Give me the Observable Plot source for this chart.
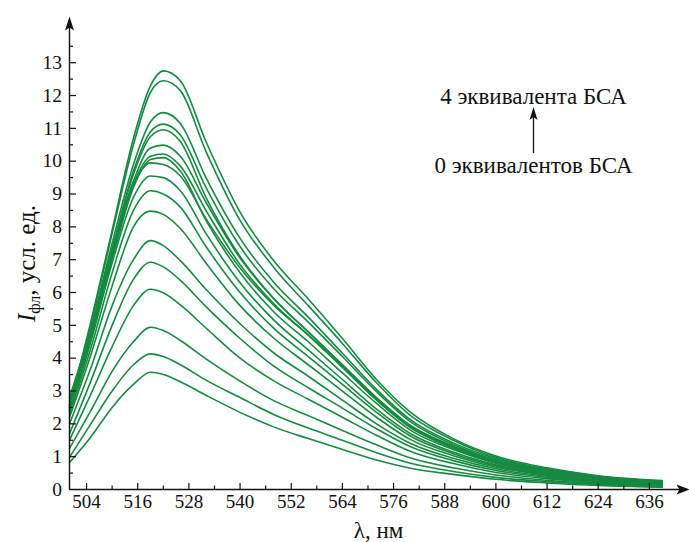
<!DOCTYPE html>
<html>
<head>
<meta charset="utf-8">
<script src="https://cdn.jsdelivr.net/npm/d3@7"></script>
<script src="https://cdn.jsdelivr.net/npm/@observablehq/plot@0.6"></script>
<style>
html, body { margin: 0; padding: 0; background: #fff; }
#chart svg { display: block; }
</style>
</head>
<body>
<div id="chart"></div>
<script>
// Wavelength grid (nm) shared by all spectra
const wavelengths = [500, 505, 510, 515, 519, 522, 526, 532, 540, 548, 556, 564, 572, 580, 590, 600, 612, 624, 639];

// Fluorescence spectra (intensity, arb. units), from highest to lowest peak
const c01 = [2.5, 5.1, 7.9, 10.7, 12.3, 12.75, 12.45, 10.6, 8.45, 6.95, 5.8, 4.6, 3.35, 2.35, 1.55, 1.02, 0.66, 0.42, 0.27];
const c02 = [2.4, 5.0, 7.8, 10.5, 12.1, 12.45, 12.15, 10.3, 8.2, 6.75, 5.6, 4.45, 3.25, 2.25, 1.5, 0.98, 0.63, 0.4, 0.25];
const c03 = [2.7, 4.9, 7.5, 9.9, 11.2, 11.48, 11.15, 9.5, 7.65, 6.3, 5.25, 4.15, 3.05, 2.12, 1.42, 0.94, 0.6, 0.38, 0.24];
const c04 = [2.6, 4.8, 7.3, 9.7, 10.9, 11.13, 10.8, 9.2, 7.4, 6.1, 5.1, 4.05, 2.98, 2.06, 1.37, 0.9, 0.58, 0.36, 0.23];
const c05 = [2.55, 4.75, 7.3, 9.6, 10.75, 10.96, 10.6, 8.9, 7.1, 5.8, 4.8, 3.8, 2.8, 1.95, 1.32, 0.87, 0.56, 0.35, 0.22];
const c06 = [2.5, 4.7, 7.2, 9.4, 10.4, 10.49, 10.15, 8.75, 7.05, 5.8, 4.8, 3.8, 2.78, 1.92, 1.3, 0.85, 0.54, 0.34, 0.21];
const c07 = [2.45, 4.65, 7.1, 9.3, 10.15, 10.22, 9.85, 8.5, 6.85, 5.65, 4.7, 3.72, 2.72, 1.88, 1.27, 0.83, 0.52, 0.32, 0.2];
const c08 = [2.4, 4.6, 7.0, 9.2, 10.05, 10.11, 9.7, 8.2, 6.6, 5.4, 4.5, 3.55, 2.62, 1.8, 1.22, 0.8, 0.5, 0.31, 0.19];
const c09 = [2.8, 4.9, 7.3, 9.3, 9.95, 9.9, 9.55, 8.25, 6.75, 5.6, 4.7, 3.75, 2.75, 1.9, 1.25, 0.81, 0.5, 0.3, 0.18];
const c10 = [2.35, 4.5, 6.9, 8.9, 9.55, 9.5, 9.1, 7.8, 6.3, 5.15, 4.25, 3.35, 2.45, 1.7, 1.14, 0.75, 0.47, 0.29, 0.17];
const c11 = [2.3, 4.3, 6.6, 8.5, 9.1, 9.0, 8.6, 7.4, 6.0, 4.9, 4.05, 3.2, 2.35, 1.62, 1.09, 0.72, 0.45, 0.28, 0.16];
const c12 = [2.2, 4.1, 6.2, 8.0, 8.48, 8.38, 7.95, 6.9, 5.6, 4.6, 3.8, 3.0, 2.2, 1.52, 1.03, 0.68, 0.43, 0.26, 0.15];
const c13 = [2.0, 3.7, 5.6, 7.0, 7.58, 7.43, 6.97, 6.1, 5.05, 4.15, 3.45, 2.72, 2.0, 1.4, 0.95, 0.63, 0.4, 0.24, 0.14];
const c14 = [1.7, 3.3, 5.0, 6.4, 6.92, 6.78, 6.37, 5.57, 4.6, 3.75, 3.1, 2.48, 1.85, 1.3, 0.88, 0.58, 0.37, 0.22, 0.13];
const c15 = [1.5, 2.9, 4.35, 5.6, 6.1, 5.99, 5.62, 4.92, 4.0, 3.3, 2.75, 2.2, 1.65, 1.16, 0.79, 0.52, 0.33, 0.2, 0.12];
const c16 = [1.25, 2.4, 3.6, 4.5, 4.94, 4.84, 4.54, 3.98, 3.3, 2.7, 2.25, 1.8, 1.36, 0.96, 0.66, 0.44, 0.28, 0.17, 0.1];
const c17 = [0.98, 2.0, 3.0, 3.8, 4.13, 4.05, 3.8, 3.33, 2.8, 2.28, 1.87, 1.5, 1.12, 0.8, 0.55, 0.37, 0.24, 0.15, 0.08];
const c18 = [0.82, 1.6, 2.5, 3.2, 3.57, 3.5, 3.28, 2.87, 2.35, 1.9, 1.55, 1.22, 0.9, 0.65, 0.46, 0.31, 0.2, 0.12, 0.07];

const spectra = [c01, c02, c03, c04, c05, c06, c07, c08, c09, c10, c11, c12, c13, c14, c15, c16, c17, c18];

// Axis ticks
const xTicks = [504, 516, 528, 540, 552, 564, 576, 588, 600, 612, 624, 636];
const xMinorTicks = [510, 522, 534, 546, 558, 570, 582, 594, 606, 618, 630];
const yTicks = [0, 1, 2, 3, 4, 5, 6, 7, 8, 9, 10, 11, 12, 13];
const yMinorTicks = [0.5, 1.5, 2.5, 3.5, 4.5, 5.5, 6.5, 7.5, 8.5, 9.5, 10.5, 11.5, 12.5, 13.5];

// Texts
const xLabel = "λ, нм";
const yLabel = "Iфл, усл. ед.";
const annotTop = "4 эквивалента БСА";
const annotBottom = "0 эквивалентов БСА";

// Build the long table
const rows = [];
spectra.forEach((s, i) => s.forEach((v, j) => rows.push({series: i, nm: wavelengths[j], value: v})));

// Pixel geometry
const X_LEFT = 69, PX_PER_NM = 4.264;
const Y_ZERO = 489, PX_PER_UNIT = 32.83;
const nmAt = (px) => 500 + (px - X_LEFT) / PX_PER_NM;
const valAt = (py) => (Y_ZERO - py) / PX_PER_UNIT;

function arrowSymbol(len, half, notch) {
  return {
    draw(ctx) {
      ctx.moveTo(0, 0);
      ctx.lineTo(half, len);
      ctx.lineTo(0, len - notch);
      ctx.lineTo(-half, len);
      ctx.closePath();
    }
  };
}

const FONT = "Liberation Serif, Times New Roman, serif";
const green = "#168a41";
const annX = nmAt(533);

const svg = Plot.plot({
  width: 689,
  height: 542,
  style: {fontFamily: FONT, background: "#fff", overflow: "visible"},
  x: {domain: [500, 640], range: [X_LEFT, X_LEFT + 140 * PX_PER_NM], axis: null},
  y: {domain: [0, 13], range: [Y_ZERO, Y_ZERO - 13 * PX_PER_UNIT], axis: null},
  marks: [
    Plot.line(rows, {x: "nm", y: "value", z: "series", stroke: green, strokeWidth: 1.6, curve: "monotone-x"}),
    // axis lines
    Plot.ruleY([0], {x1: 500, x2: nmAt(680), stroke: "#111", strokeWidth: 1.4}),
    Plot.ruleX([500], {y1: 0, y2: valAt(26), stroke: "#111", strokeWidth: 1.4}),
    // arrowheads
    Plot.dot([0], {x: nmAt(689), y: 0, symbol: arrowSymbol(13, 5, 3), rotate: 90, fill: "#111", stroke: "none"}),
    Plot.dot([0], {x: 500, y: valAt(16), symbol: arrowSymbol(14, 4.5, 3), rotate: 0, fill: "#111", stroke: "none"}),
    // ticks (inward)
    Plot.ruleX(xTicks, {x: d => d, y1: 0, y2: 6 / PX_PER_UNIT, stroke: "#111", strokeWidth: 1.2}),
    Plot.ruleX(xMinorTicks, {x: d => d, y1: 0, y2: 3.5 / PX_PER_UNIT, stroke: "#111", strokeWidth: 1.2}),
    Plot.ruleY(yTicks.filter(d => d > 0), {y: d => d, x1: 500, x2: 500 + 7 / PX_PER_NM, stroke: "#111", strokeWidth: 1.2}),
    Plot.ruleY(yMinorTicks, {y: d => d, x1: 500, x2: 500 + 4 / PX_PER_NM, stroke: "#111", strokeWidth: 1.2}),
    // tick labels
    Plot.text(xTicks, {x: d => d, y: 0, dy: 12, text: d => String(d), fontSize: 19, fill: "#111"}),
    Plot.text(yTicks, {x: 500, y: d => d, dx: -7.5, text: d => String(d), textAnchor: "end", fontSize: 19.5, fill: "#111"}),
    // axis titles
    Plot.text([xLabel], {x: nmAt(378), y: 0, dy: 41, text: d => d, fontSize: 23, fill: "#111"}),
    Plot.text([yLabel], {x: 500, y: valAt(263), dx: -43, text: d => d, rotate: -90, fontSize: 25, fill: "#111"}),
    // annotation
    Plot.text([annotTop], {x: annX, y: valAt(96.5), text: d => d, fontSize: 23, fill: "#111"}),
    Plot.text([annotBottom], {x: annX, y: valAt(165), text: d => d, fontSize: 23, fill: "#111"}),
    Plot.ruleX([annX], {y1: valAt(153), y2: valAt(116), stroke: "#111", strokeWidth: 1.3}),
    Plot.dot([0], {x: annX, y: valAt(106.5), symbol: arrowSymbol(13, 4, 3), fill: "#111", stroke: "none"})
  ]
});

// Italic I with subscript "фл" in the y-axis title
d3.select(svg).selectAll("text").filter(function () { return this.textContent === yLabel; })
  .each(function () {
    const t = d3.select(this);
    t.text(null);
    t.append("tspan").attr("font-style", "italic").text("I");
    t.append("tspan").attr("font-size", 16).attr("dy", 5).text("фл");
    t.append("tspan").attr("dy", -5).text(", усл. ед.");
  });

document.getElementById("chart").appendChild(svg);
</script>
</body>
</html>
